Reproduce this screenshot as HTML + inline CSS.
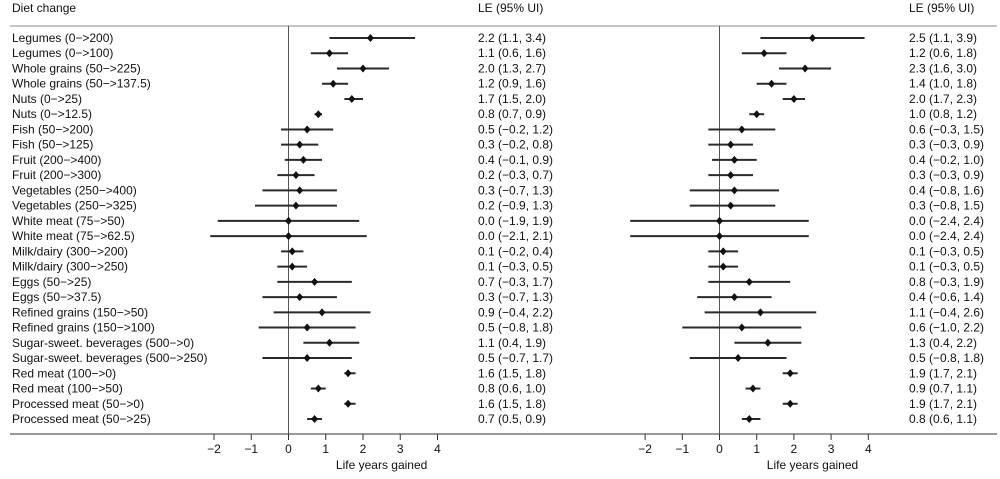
<!DOCTYPE html>
<html><head><meta charset="utf-8"><style>
body{margin:0;background:#fff}
svg text{font-family:"Liberation Sans",Arial,sans-serif;fill:#111}
</style></head><body>
<svg id="chart" width="1000" height="474" viewBox="0 0 1000 474" xmlns="http://www.w3.org/2000/svg">
<text x="12" y="12" font-size="12">Diet change</text>
<text x="478" y="12" font-size="12">LE (95% UI)</text>
<text x="909" y="12" font-size="12">LE (95% UI)</text>
<line x1="10" y1="26" x2="997" y2="26" stroke="#888" stroke-width="1"/>
<line x1="10" y1="434" x2="997" y2="434" stroke="#333" stroke-width="1"/>
<g id="rows"></g>
</svg>
<script>
const categories=["Legumes (0−>200)","Legumes (0−>100)","Whole grains (50−>225)","Whole grains (50−>137.5)","Nuts (0−>25)","Nuts (0−>12.5)","Fish (50−>200)","Fish (50−>125)","Fruit (200−>400)","Fruit (200−>300)","Vegetables (250−>400)","Vegetables (250−>325)","White meat (75−>50)","White meat (75−>62.5)","Milk/dairy (300−>200)","Milk/dairy (300−>250)","Eggs (50−>25)","Eggs (50−>37.5)","Refined grains (150−>50)","Refined grains (150−>100)","Sugar-sweet. beverages (500−>0)","Sugar-sweet. beverages (500−>250)","Red meat (100−>0)","Red meat (100−>50)","Processed meat (50−>0)","Processed meat (50−>25)"];
const leftEst=[2.2,1.1,2.0,1.2,1.7,0.8,0.5,0.3,0.4,0.2,0.3,0.2,0.0,0.0,0.1,0.1,0.7,0.3,0.9,0.5,1.1,0.5,1.6,0.8,1.6,0.7];
const leftLo=[1.1,0.6,1.3,0.9,1.5,0.7,-0.2,-0.2,-0.1,-0.3,-0.7,-0.9,-1.9,-2.1,-0.2,-0.3,-0.3,-0.7,-0.4,-0.8,0.4,-0.7,1.5,0.6,1.5,0.5];
const leftHi=[3.4,1.6,2.7,1.6,2.0,0.9,1.2,0.8,0.9,0.7,1.3,1.3,1.9,2.1,0.4,0.5,1.7,1.3,2.2,1.8,1.9,1.7,1.8,1.0,1.8,0.9];
const rightEst=[2.5,1.2,2.3,1.4,2.0,1.0,0.6,0.3,0.4,0.3,0.4,0.3,0.0,0.0,0.1,0.1,0.8,0.4,1.1,0.6,1.3,0.5,1.9,0.9,1.9,0.8];
const rightLo=[1.1,0.6,1.6,1.0,1.7,0.8,-0.3,-0.3,-0.2,-0.3,-0.8,-0.8,-2.4,-2.4,-0.3,-0.3,-0.3,-0.6,-0.4,-1.0,0.4,-0.8,1.7,0.7,1.7,0.6];
const rightHi=[3.9,1.8,3.0,1.8,2.3,1.2,1.5,0.9,1.0,0.9,1.6,1.5,2.4,2.4,0.5,0.5,1.9,1.4,2.6,2.2,2.2,1.8,2.1,1.1,2.1,1.1];
const tickVals=[-2,-1,0,1,2,3,4];
const tickLabels=["−2","−1","0","1","2","3","4"];

const NS="http://www.w3.org/2000/svg";
const svg=document.getElementById('chart');
const g=document.getElementById('rows');
function yPos(i){return 38+i*15.24;}
function xLeft(v){return 288.5+v*37.25;}
function xRight(v){return 719.5+v*37.2;}
function mk(tag,attrs,parent){const e=document.createElementNS(NS,tag);for(const k in attrs)e.setAttribute(k,attrs[k]);(parent||g).appendChild(e);return e;}
function fmt(v){return (v<0?"−":"")+Math.abs(v).toFixed(1);}

function panel(xf,est,lo,hi,textX,side){
  const z=mk('line',{x1:xf(0),y1:26,x2:xf(0),y2:434,stroke:'#555','stroke-width':1});
  
  
  categories.forEach((c,i)=>{
    const y=yPos(i);
    const l=mk('line',{x1:xf(lo[i]),y1:y,x2:xf(hi[i]),y2:y,stroke:'#2a2a2a','stroke-width':2});
    
    
    const cx=xf(est[i]);
    const d=mk('polygon',{points:`${cx},${y-4} ${cx+3.5},${y} ${cx},${y+4} ${cx-3.5},${y}`,fill:'#111'});
    
    
    const t=mk('text',{x:textX,y:y+4,'font-size':12});
    t.textContent=`${fmt(est[i])} (${fmt(lo[i])}, ${fmt(hi[i])})`;
    
    
  });
  tickVals.forEach((v,k)=>{
    const tk=mk('line',{x1:xf(v),y1:434,x2:xf(v),y2:440,stroke:'#333','stroke-width':1});
    
    
    const tl=mk('text',{x:xf(v),y:453,'font-size':12,'text-anchor':'middle'});
    tl.textContent=tickLabels[k];
    
    
  });
  const at=mk('text',{x:xf(2.5),y:469,'font-size':12,'text-anchor':'middle'});
  at.textContent='Life years gained';
  
  
}
categories.forEach((c,i)=>{
  const t=mk('text',{x:12,y:yPos(i)+4,'font-size':12});
  t.textContent=c;
  
  
});
panel(xLeft,leftEst,leftLo,leftHi,478,'left');
panel(xRight,rightEst,rightLo,rightHi,909,'right');
</script>
</body></html>
